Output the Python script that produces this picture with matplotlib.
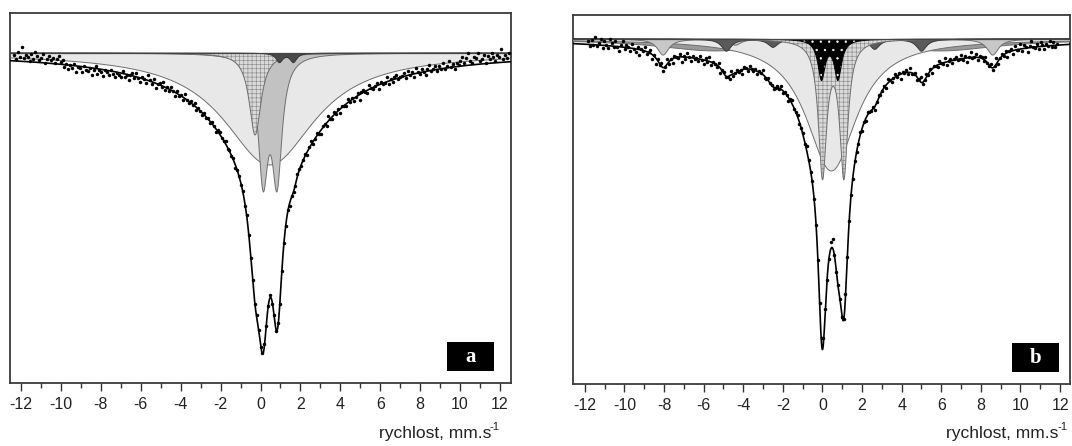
import numpy as np
import matplotlib
matplotlib.use("Agg")
import matplotlib.pyplot as plt
from matplotlib.patches import Rectangle
from matplotlib.ticker import MultipleLocator

plt.rcParams['font.family'] = ['Liberation Sans', 'DejaVu Sans']
plt.rcParams['hatch.linewidth'] = 0.45
plt.rcParams['axes.unicode_minus'] = False

# ---------------- data (depths in 0.001 of relative transmission) -------------
# panel a : fitted sub-spectra (centre mm/s, depth, half width)
a_broad_c, a_broad_d, a_broad_w = 0.45, 112, 2.8          # light grey broad component
a_wide_c, a_wide_d, a_wide_w = 0.45, 14, 6.0              # very broad unfilled component
a_sing_c, a_sing_d, a_sing_w = -0.27, 82, 0.36            # cross-hatched singlet
a_dbl_c = [0.13, 0.83]; a_dbl_d = 120; a_dbl_w = 0.30     # mid grey doublet
a_dark_c = [0.95, 1.65]; a_dark_d = 9; a_dark_w = 0.20    # dark grey doublet
a_vel_range = (-12.35, 12.45)
a_resid = [6, 2, 9, 4, 14, 3, 7, 5, 1, 8, 3, 10, 6, 2, 5, 9, 0, 4, 7, 3, 6, 1, 5, 8, 2, 4,
           -2, 1, -4, 0, -3, 2, -6, -1, -2, -5, 1, -3, -4, 0, -7, -2, 2, -5, -1, -3, -6, 0, -2, -4,
           1, -3, -5, -1, -2, -4, 2, -3, -1, -5,
           0, 3, -2, 4, -1, -4, 2, 0, -3, 5, 1, -2, 3, -5, 0, 2, -1, 4, -3, 1, -2, 3, 0, -4, 2,
           -1, 1, -3, 4, 0, -2, 2, -1, 3, -3, 1, 0, -2, 2, -1,
           1, -2, 2, 0, -3, 1, 2, -1, 0, 3, -2, 1, -1, 2, -3, 0, 1, -1, 2, -2, 3, 0, -1, 1, -2,
           2, 0, -3, 1, 2, -1, 0, 2, -2, 1, -1, 3, -2, 0, 1, -1, 2, -3, 1, 0, -2, 2, 1, -1, 0,
           2, -3, 1, 4, -2, 0, 3, -1, -4, 2, 1, -3, 5, 0, -2, 3, -1, 2, -4, 1, 0, -2, 4, -1, 2,
           -3, 0, 3, -5, 1, 2, -1, -3, 4, 0, -2, 1, 3, -4, 2, -1, 0, 5, -3, 1, -2, 2, 4, -1, 0,
           1, 3, -2, 4, 0, 2, -3, 5, 1, -1, 3, 0, -4, 2, 6, -1, 1, 4, -2, 3, 0, 5, -1, 2, 7, 0,
           3, -2, 4, 1,
           5, 9, 3, 7, 12, 4, 2, 8, 6, 11, 3, 5, 9, 1, 7, 4, 10, 6, 2, 8, 5, 13, 3, 7, 4, 9]

# panel b
b_broad_c, b_broad_d, b_broad_w = 0.45, 132, 1.55         # light grey broad component
b_wide_c = [-5.5, 6.0]; b_wide_d = 11; b_wide_w = 3.5     # very broad magnetic background
b_hatch_c = [0.0, 1.08]; b_hatch_d = 134; b_hatch_w = 0.25   # cross-hatched doublet
b_dot_c = [-0.05, 0.78]; b_dot_d = 39; b_dot_w = 0.22        # black dotted doublet
b_sx1_c = [-8.05, -4.4, -0.9, 1.6, 5.15, 8.6]                # light grey sextet
b_sx1_d = [16, 6, 3, 3, 6, 16]; b_sx1_w = 0.35
b_sx2_c = [-4.85, -2.5, -0.7, 0.85, 2.64, 5.0]               # dark grey sextet
b_sx2_d = [12, 8, 4, 4, 10, 12]; b_sx2_w = 0.30
b_vel_range = (-11.85, 11.85)
b_resid = [3, -2, 5, 0, 8, -1, 2, 6, -3, 4, 1, -2, 7, 3, -1, 5, 0, -4, 2, 6, -2, 3, 1, -3, 4, 0,
           -3, 2, -5, 1, -1, 4, -2, 0, 3, -4, 1, -6, 2, -1, 3, -3, 0, 5, -2, 1, -4, 2, 0, -1,
           3, -5, 1, -2, 4, 0, -3, 2, -1, 1,
           -2, 3, 0, -4, 2, -1, 4, -3, 1, 0, -2, 3, -5, 1, 2, -1, 0, -3, 4, -2, 1, 3, -1, 0, -4,
           2, 1, -2, 3, 0, -1, 2, -3, 1, 0, 4, -2, -1, 2, 0,
           1, -2, 0, 2, -1, 3, -2, 1, 0, -3, 2, 4, -1, 0, 2, -2, 1, 3, -1, 5, 0, -2, 2, 1, -1,
           0, 3, 6, 5, 2, -1, 0, 7, 9, 1, -1, 2, 0, -3, 1, 2, -1, 0, 1, -2, 2, 0, -1, 3, -2,
           1, -2, 3, 0, -1, 2, -4, 1, 3, -1, 0, 2, -3, 4, 1, -2, 0, 3, -1, 2, -5, 1, 0, 3, -2,
           4, -1, 0, 2, -3, 1, 5, -2, 0, 3, -1, 2, -4, 1, 0, -2, 3, 1, -1, 4, -3, 0, 2, -2, 1,
           3, -1, 0, 4, -2, 2, -4, 1, 5, -1, 0, 3, -3, 2, 1, -2, 4, 0, -1, 3, -2, 1, 6, -3, 0,
           2, -1, 3, -4, 1,
           2, -3, 4, 0, -1, 5, -2, 3, 1, -4, 2, 6, 0, -1, 3, -2, 4, 1, -3, 2, 0, 5, -1, 3, -2, 1]

panel_labels = ['a', 'b']
xlabel_main = 'rychlost, mm.s'
xlabel_sup = '-1'
SCALE = 0.001


def lor(v, centres, depths, w):
    centres = np.atleast_1d(centres)
    depths = np.broadcast_to(np.atleast_1d(depths), centres.shape)
    out = np.zeros_like(v)
    for c, d in zip(centres, depths):
        out += d / (1.0 + ((v - c) / w) ** 2)
    return out


def fill_comp(ax, v, depth, fc, hatch=None, hc='#888888', zorder=2, edge='#6e6e6e', lw=0.7):
    y = 1 - depth * SCALE
    if fc is not None:
        ax.fill_between(v, 1, y, facecolor=fc, edgecolor=hc if hatch else 'none',
                        hatch=hatch, linewidth=0, zorder=zorder)
    ax.plot(v, y, color=edge, lw=lw, zorder=zorder + 0.1)


def style_axis(ax, xlim, ylim):
    ax.set_xlim(*xlim)
    ax.set_ylim(*ylim)
    ax.set_yticks([])
    ax.xaxis.set_major_locator(MultipleLocator(2))
    ax.xaxis.set_minor_locator(MultipleLocator(1))
    ax.tick_params(axis='x', which='major', direction='out', length=6, width=1.0,
                   labelsize=11.5, pad=4, color='#333333', labelcolor='#222222')
    ax.tick_params(axis='x', which='minor', direction='out', length=3.5, width=1.0,
                   color='#333333')
    for s in ax.spines.values():
        s.set_color('#3a3a3a')
        s.set_linewidth(1.3)


fig = plt.figure(figsize=(10.72, 4.46), dpi=100)
W, H = 1072, 446
axa = fig.add_axes([10 / W, (H - 383) / H, 501 / W, 370 / H])
axb = fig.add_axes([573 / W, (H - 384) / H, 497 / W, 369 / H])

# ---------------- panel a ----------------
va = np.linspace(-12.55, 12.55, 3000)
c0 = lor(va, a_wide_c, a_wide_d, a_wide_w)
c1 = lor(va, a_broad_c, a_broad_d, a_broad_w)
c2 = lor(va, a_sing_c, a_sing_d, a_sing_w)
c3 = lor(va, a_dbl_c, a_dbl_d, a_dbl_w)
c4 = lor(va, a_dark_c, a_dark_d, a_dark_w)
fill_comp(axa, va, c0, None, zorder=1.5, edge='#555555', lw=0.8)
fill_comp(axa, va, c1, '#e8e8e8', zorder=2)
fill_comp(axa, va, c3, '#c2c2c2', zorder=3)
fill_comp(axa, va, c2, '#dadada', hatch='++++', hc='#8c8c8c', zorder=4)
fill_comp(axa, va, c4, '#4a4a4a', zorder=5, edge='#333333')
tot_a = c0 + c1 + c2 + c3 + c4
axa.axhline(1, color='#444444', lw=0.9, zorder=6)
axa.plot(va, 1 - tot_a * SCALE, color='black', lw=1.2, zorder=7)
cha = np.linspace(*a_vel_range, len(a_resid))
fit_a = (lor(cha, a_wide_c, a_wide_d, a_wide_w) + lor(cha, a_broad_c, a_broad_d, a_broad_w)
         + lor(cha, a_sing_c, a_sing_d, a_sing_w) + lor(cha, a_dbl_c, a_dbl_d, a_dbl_w)
         + lor(cha, a_dark_c, a_dark_d, a_dark_w))
ya = 1 - fit_a * SCALE + np.array(a_resid) * SCALE
axa.plot(cha, ya, 'o', ms=2.5, color='black', mew=0, zorder=8)
style_axis(axa, (-12.55, 12.55), (1 - 0.330, 1 + 0.040))

# ---------------- panel b ----------------
vb = np.linspace(-12.6, 12.5, 3000)
d_w = lor(vb, b_wide_c, b_wide_d, b_wide_w)
d_l = lor(vb, b_broad_c, b_broad_d, b_broad_w)
d_s1 = lor(vb, b_sx1_c, b_sx1_d, b_sx1_w)
d_s2 = lor(vb, b_sx2_c, b_sx2_d, b_sx2_w)
d_h = lor(vb, b_hatch_c, b_hatch_d, b_hatch_w)
d_k = lor(vb, b_dot_c, b_dot_d, b_dot_w)
fill_comp(axb, vb, d_w, '#9a9a9a', zorder=2)
fill_comp(axb, vb, d_l, '#e8e8e8', zorder=3)
fill_comp(axb, vb, d_s1, '#c8c8c8', zorder=4)
fill_comp(axb, vb, d_s2, '#5a5a5a', zorder=5, edge='#3a3a3a')
fill_comp(axb, vb, d_h, '#dadada', hatch='++++', hc='#8c8c8c', zorder=6)
fill_comp(axb, vb, d_k, 'black', hatch='..', hc='white', zorder=7, edge='black')
tot_b = d_w + d_l + d_s1 + d_s2 + d_h + d_k
axb.axhline(1, color='#444444', lw=0.9, zorder=8)
axb.plot(vb, 1 - tot_b * SCALE, color='black', lw=1.2, zorder=9)
chb = np.linspace(*b_vel_range, len(b_resid))
fit_b = (lor(chb, b_wide_c, b_wide_d, b_wide_w) + lor(chb, b_broad_c, b_broad_d, b_broad_w)
         + lor(chb, b_sx1_c, b_sx1_d, b_sx1_w) + lor(chb, b_sx2_c, b_sx2_d, b_sx2_w)
         + lor(chb, b_hatch_c, b_hatch_d, b_hatch_w) + lor(chb, b_dot_c, b_dot_d, b_dot_w))
yb = 1 - fit_b * SCALE + np.array(b_resid) * SCALE
axb.plot(chb, yb, 'o', ms=2.5, color='black', mew=0, zorder=10)
style_axis(axb, (-12.6, 12.5), (1 - 0.345, 1 + 0.024))

# ---------------- panel tags and axis titles ----------------
for ax, lab, x0, x1 in [(axa, panel_labels[0], 0.872, 0.966), (axb, panel_labels[1], 0.883, 0.978)]:
    ax.add_patch(Rectangle((x0, 0.032), x1 - x0, 0.078, transform=ax.transAxes,
                           facecolor='black', edgecolor='none', zorder=20))
    ax.text((x0 + x1) / 2, 0.071, lab, transform=ax.transAxes, ha='center', va='center',
            color='white', fontsize=15, fontweight='bold', family='Liberation Serif', zorder=21)

for xr in (500, 1067):
    fig.text((xr - 9) / W, 1 - 438 / H, xlabel_main, ha='right', va='baseline',
             fontsize=12.5, color='#222222')
    fig.text(xr / W, 1 - 430 / H, xlabel_sup, ha='right', va='baseline',
             fontsize=8, color='#222222')

fig.savefig('out.png', dpi=100)
